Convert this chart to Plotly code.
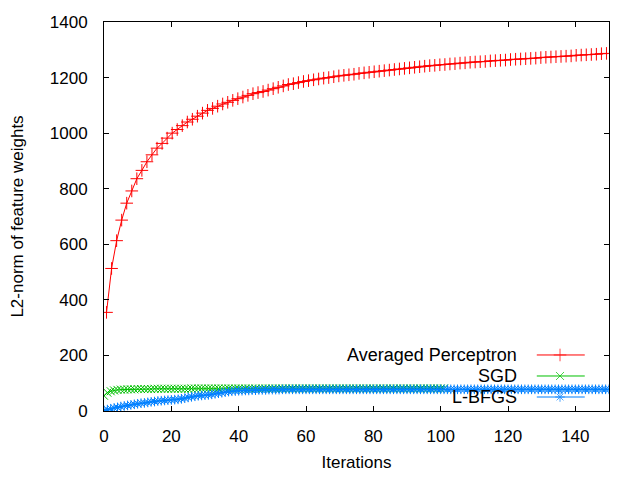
import plotly.graph_objects as go

# ---------------- data ----------------
ap_iter = [0.75 + 1.5 * k for k in range(100)]
ap_norm = [355, 513, 613, 687, 748, 792, 836, 866, 897, 922,
           946, 963, 982, 1000, 1013, 1027, 1040, 1050, 1061, 1072,
           1082, 1089, 1097, 1105, 1111, 1118, 1124, 1130, 1136, 1142,
           1146, 1150, 1155, 1160, 1165, 1170, 1175, 1178, 1182, 1186,
           1189, 1192, 1195, 1198, 1200, 1203, 1206, 1208, 1210, 1212,
           1215, 1217, 1219, 1221, 1223, 1225, 1227, 1229, 1231, 1233,
           1235, 1237, 1239, 1241, 1243, 1244, 1246, 1247, 1249, 1250,
           1252, 1253, 1255, 1256, 1257, 1258, 1260, 1261, 1262, 1263,
           1265, 1266, 1267, 1268, 1269, 1270, 1272, 1273, 1274, 1275,
           1276, 1277, 1278, 1280, 1281, 1282, 1283, 1284, 1286, 1287]

sgd_iter = list(range(0, 102))
sgd_norm = [55, 66, 71, 74, 76, 77, 77, 78, 78, 78,
            79, 79, 79, 79, 79, 80, 80, 80, 80, 80,
            80, 80, 80, 80, 80, 80, 81, 81, 81, 81,
            81, 81, 81, 81, 81, 81, 81, 81, 81, 81,
            81, 81, 81, 81, 81, 81, 81, 81, 81, 81,
            81, 81, 81, 81, 81, 81, 81, 81, 81, 81,
            81, 81, 81, 81, 81, 81, 81, 81, 81, 81,
            81, 81, 81, 81, 81, 81, 81, 81, 81, 81,
            81, 81, 81, 81, 81, 81, 81, 81, 81, 81,
            81, 81, 81, 81, 81, 81, 81, 81, 81, 81,
            81, 81]

lbfgs_iter = list(range(0, 151))
lbfgs_norm = [2, 5, 8, 11, 13, 16, 18, 20, 22, 24,
              26, 28, 29, 31, 33, 34, 36, 37, 38, 39,
              40, 41, 42, 44, 46, 49, 51, 53, 55, 56,
              57, 58, 60, 62, 64, 66, 68, 70, 71, 72,
              73, 73, 74, 74, 75, 75, 76, 76, 76, 77,
              77, 77, 77, 78, 78, 78, 78, 78, 78, 78,
              78, 78, 78, 78, 78, 78, 78, 78, 78, 78,
              78, 78, 78, 78, 78, 78, 78, 78, 78, 78,
              78, 78, 78, 78, 78, 78, 78, 78, 78, 78,
              78, 78, 78, 78, 78, 78, 78, 78, 78, 78,
              78, 78, 78, 78, 78, 78, 78, 78, 78, 78,
              78, 78, 78, 78, 78, 78, 78, 78, 78, 78,
              78, 78, 78, 78, 78, 78, 78, 78, 78, 78,
              78, 78, 78, 78, 78, 78, 78, 78, 78, 78,
              78, 78, 78, 78, 78, 78, 78, 78, 78, 78,
              78]

series_names = ["Averaged Perceptron", "SGD", "L-BFGS"]
colors = ["#ff0000", "#00c000", "#0080ff"]
symbols = ["cross-thin", "x-thin", "asterisk"]
sizes = [9, 8, 8]

x_ticks = [0, 20, 40, 60, 80, 100, 120, 140]
y_ticks = [0, 200, 400, 600, 800, 1000, 1200, 1400]

FONT = "Liberation Sans, Arial, sans-serif"

fig = go.Figure()
for xs, ys, name, c, s, sz in zip([ap_iter, sgd_iter, lbfgs_iter],
                                  [ap_norm, sgd_norm, lbfgs_norm],
                                  series_names, colors, symbols, sizes):
    fig.add_trace(go.Scatter(
        x=xs, y=ys, mode="lines+markers", name=name,
        line=dict(color=c, width=1),
        marker=dict(symbol=s, size=sz, line=dict(color=c, width=1), color=c),
        showlegend=False, cliponaxis=True))

# custom gnuplot-style legend (text right, sample on right) on an overlay axis
leg_rows = [0.144, 0.090, 0.036]
for name, c, s, sz, yr in zip(series_names, colors, symbols, sizes, leg_rows):
    fig.add_trace(go.Scatter(
        x=[0.857, 0.903, 0.952], y=[yr, yr, yr], xaxis="x2", yaxis="y2",
        mode="lines+markers", line=dict(color=c, width=1),
        marker=dict(symbol=s, size=[0, sz, 0], line=dict(color=c, width=1), color=c),
        showlegend=False, hoverinfo="skip"))
    fig.add_annotation(x=0.822, y=yr, xref="x2", yref="y2", text=name,
                       showarrow=False, xanchor="right", yanchor="middle",
                       font=dict(family=FONT, size=18, color="black"))

axis_common = dict(showline=True, linecolor="black", linewidth=1, mirror="ticks",
                   ticks="inside", ticklen=5, tickcolor="black", showgrid=False,
                   zeroline=False, automargin=False,
                   tickfont=dict(family=FONT, size=17, color="black"))

# page body has an 8px margin, so the figure is shrunk by 8px and margins offset
fig.update_layout(
    width=632, height=472,
    margin=dict(l=96, r=31, t=14, b=69),
    paper_bgcolor="white", plot_bgcolor="white",
    xaxis=dict(range=[0, 150], tickvals=x_ticks, ticklabelstandoff=10,
               title=dict(text="Iterations", font=dict(family=FONT, size=17, color="black"),
                          standoff=10),
               **axis_common),
    yaxis=dict(range=[0, 1400], tickvals=y_ticks, ticklabelstandoff=12,
               title=dict(text="L2-norm of feature weights",
                          font=dict(family=FONT, size=17, color="black"), standoff=30),
               **axis_common),
    xaxis2=dict(range=[0, 1], overlaying="x", anchor="y2", visible=False),
    yaxis2=dict(range=[0, 1], overlaying="y", anchor="x2", visible=False),
    showlegend=False,
)

fig.write_html("out.html")
